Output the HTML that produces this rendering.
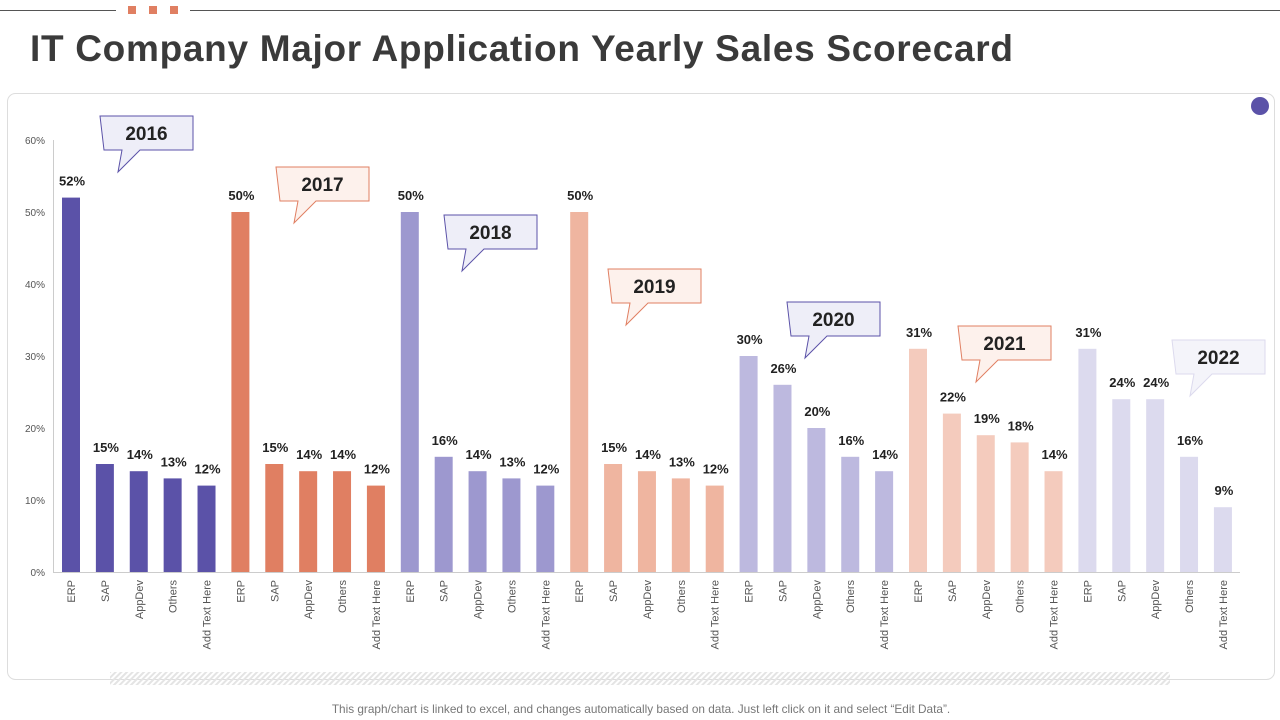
<!DOCTYPE html>
<html><head><meta charset="utf-8"><style>
body{margin:0;width:1280px;height:720px;background:#fff;font-family:"Liberation Sans",sans-serif;overflow:hidden;position:relative}
#title{position:absolute;left:30px;top:28px;font-size:37px;font-weight:bold;color:#3a3a3a;letter-spacing:0.7px}
#foot{position:absolute;left:0;width:1282px;top:702px;text-align:center;font-size:11.8px;color:#777}
</style></head><body>
<svg width="1280" height="720" style="position:absolute;left:0;top:0">
<defs><pattern id="hatch" width="4" height="4" patternUnits="userSpaceOnUse" patternTransform="rotate(45)"><rect width="2" height="4" fill="#e4e4e4"/></pattern></defs>
<line x1="0" y1="10.5" x2="116" y2="10.5" stroke="#555"/>
<line x1="190" y1="10.5" x2="1280" y2="10.5" stroke="#555"/>
<rect x="128" y="6" width="8" height="8" fill="#e07f62"/><rect x="149" y="6" width="8" height="8" fill="#e07f62"/><rect x="170" y="6" width="8" height="8" fill="#e07f62"/>
<rect x="7.5" y="93.5" width="1267" height="586" rx="8" fill="#fff" stroke="#ddd"/>
<rect x="110" y="672" width="1060" height="13" fill="url(#hatch)"/>
<circle cx="1260" cy="106" r="9" fill="#5b52a8"/>
</svg>
<div id="title">IT Company Major Application Yearly Sales Scorecard</div>
<svg id="chart" width="1280" height="720" style="position:absolute;left:0;top:0"></svg>
<div id="foot">This graph/chart is linked to excel, and changes automatically based on data. Just left click on it and select “Edit Data”.</div>
<script>
const years=["2016","2017","2018","2019","2020","2021","2022"];
const categories=["ERP","SAP","AppDev","Others","Add Text Here"];
const values=[[52,15,14,13,12],[50,15,14,14,12],[50,16,14,13,12],[50,15,14,13,12],[30,26,20,16,14],[31,22,19,18,14],[31,24,24,16,9]];
const yTicks=[0,10,20,30,40,50,60];
const colors=["#5b52a8","#e07f62","#9d98cf","#efb5a0","#bdb9df","#f4cbbd","#dcdaee"];
const ns="http://www.w3.org/2000/svg";
const svg=document.getElementById('chart');
const y0=572,pxPer=7.2;
function yScale(v){return y0-v*pxPer;}
function xScale(i){return 71+i*33.88;}
function mk(tag,attrs,txt){const e=document.createElementNS(ns,tag);for(const k in attrs)e.setAttribute(k,attrs[k]);if(txt!==undefined)e.textContent=txt;svg.appendChild(e);return e;}
const ax=mk('line',{x1:53.5,y1:140,x2:53.5,y2:572,stroke:'#ccc'});


const bx=mk('line',{x1:53,y1:572.5,x2:1240,y2:572.5,stroke:'#ccc'});


yTicks.forEach(t=>{
  const e=mk('text',{x:45,y:yScale(t)+4,'text-anchor':'end','font-size':10,fill:'#555'},t+'%');
  
  
});
let idx=0;
values.forEach((arr,g)=>{
  arr.forEach((v,c)=>{
    const cx=xScale(idx);
    const r=mk('rect',{x:cx-9,y:yScale(v),width:18,height:v*pxPer,fill:colors[g]});
    
    
    const lt=mk('text',{x:cx+1,y:yScale(v)-12,'text-anchor':'middle','font-size':13,'font-weight':'bold',fill:'#222'},v+'%');
    
    
    const xl=mk('text',{x:0,y:0,'text-anchor':'end','font-size':11,fill:'#555',transform:'translate('+(cx+4)+',580) rotate(-90)'},categories[c]);
    
    
    idx++;
  });
});
const calloutX=[100,276,444,608,787,958,1172];
const calloutY=[116,167,215,269,302,326,340];
const fills=[["#eeeef8","#5b52a8"],["#fdf1ec","#e07f62"],["#eeeef8","#5b52a8"],["#fdf1ec","#e07f62"],["#eeeef8","#5b52a8"],["#fdf1ec","#e07f62"],["#f4f4fa","#dcdaee"]];
years.forEach((yr,i)=>{
  const x=calloutX[i],y=calloutY[i],w=93,h=34;
  const d='M'+x+','+y+' h'+w+' v'+h+' h-'+(w-40)+' l-22,22 l4,-22 h-'+(18)+' z';
  const p=mk('path',{d:d,fill:fills[i][0],stroke:fills[i][1],'stroke-width':1});
  
  
  const t=mk('text',{x:x+w/2,y:y+24,'text-anchor':'middle','font-size':19,'font-weight':'bold',fill:'#222'},yr);
  
  
});
</script>
</body></html>
